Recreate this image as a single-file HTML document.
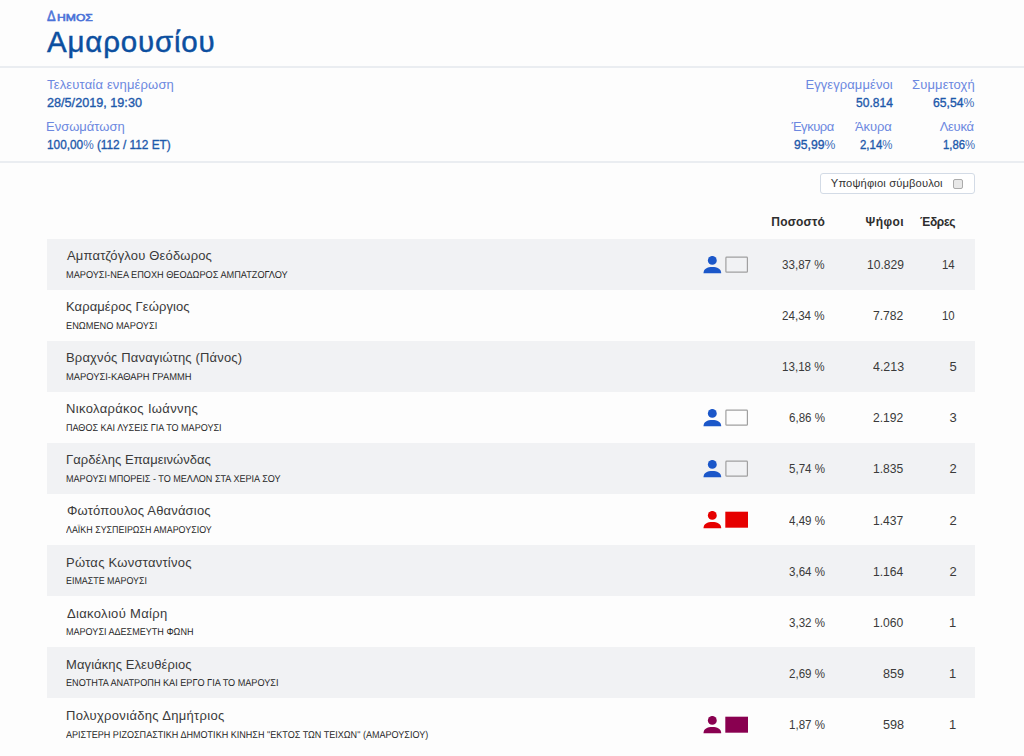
<!DOCTYPE html>
<html><head><meta charset="utf-8">
<style>
*{margin:0;padding:0;box-sizing:border-box}
html,body{width:1024px;height:756px;overflow:hidden;background:#fdfdfd;font-family:"Liberation Sans",sans-serif}
.hdr{position:absolute;left:0;top:66px;width:1024px;height:2px;background:#eaedf1}
.info{position:absolute;left:0;top:161px;width:1024px;height:2px;background:#eaedf1}
.kind{position:absolute;left:47px;top:6px;line-height:20px;font-size:15px;color:#5f7fdc;font-variant:small-caps;white-space:nowrap;-webkit-text-stroke:0.3px #5f7fdc}
.t{position:absolute;line-height:20px;white-space:nowrap}
.btn{position:absolute;left:820px;top:172.5px;width:155px;height:21.5px;border:1px solid #d3dbe6;border-radius:3px;background:#fff}
.cb{position:absolute;left:132.4px;top:5.3px;width:10px;height:10px;border:1px solid #ababab;border-radius:2px;background:#e8e8e8}
.row{position:absolute;left:47px;width:928.3px;background:#f1f2f4}
.ico{position:absolute;left:703px;width:46px;height:18px}
</style></head><body>
<div class="hdr"></div>
<div class="info"></div>
<div class="btn"><div class="cb"></div></div>
<div class="row" style="top:238.60px;height:51.070px"></div>
<div class="row" style="top:340.74px;height:51.070px"></div>
<div class="row" style="top:442.88px;height:51.070px"></div>
<div class="row" style="top:545.02px;height:51.070px"></div>
<div class="row" style="top:647.16px;height:51.070px"></div>
<svg class="ico" style="top:255.90px" viewBox="0 0 46 18"><circle cx="9.3" cy="4.4" r="4.45" fill="#1b57c9"/><path d="M0.5 17.3 C0.5 12.7 4.5 11.0 9.3 11.0 C14.1 11.0 18.2 12.7 18.2 17.3 Z" fill="#1b57c9"/><rect x="22.9" y="1.2" width="21.5" height="15" rx="0.8" fill="none" stroke="#a0a0a0" stroke-width="1.2"/></svg>
<svg class="ico" style="top:409.11px" viewBox="0 0 46 18"><circle cx="9.3" cy="4.4" r="4.45" fill="#1b57c9"/><path d="M0.5 17.3 C0.5 12.7 4.5 11.0 9.3 11.0 C14.1 11.0 18.2 12.7 18.2 17.3 Z" fill="#1b57c9"/><rect x="22.9" y="1.2" width="21.5" height="15" rx="0.8" fill="none" stroke="#a0a0a0" stroke-width="1.2"/></svg>
<svg class="ico" style="top:460.18px" viewBox="0 0 46 18"><circle cx="9.3" cy="4.4" r="4.45" fill="#1b57c9"/><path d="M0.5 17.3 C0.5 12.7 4.5 11.0 9.3 11.0 C14.1 11.0 18.2 12.7 18.2 17.3 Z" fill="#1b57c9"/><rect x="22.9" y="1.2" width="21.5" height="15" rx="0.8" fill="none" stroke="#a0a0a0" stroke-width="1.2"/></svg>
<svg class="ico" style="top:511.25px" viewBox="0 0 46 18"><circle cx="9.3" cy="4.4" r="4.45" fill="#e60000"/><path d="M0.5 17.3 C0.5 12.7 4.5 11.0 9.3 11.0 C14.1 11.0 18.2 12.7 18.2 17.3 Z" fill="#e60000"/><rect x="22.3" y="0.7" width="22.7" height="16" fill="#e60000"/></svg>
<svg class="ico" style="top:715.53px" viewBox="0 0 46 18"><circle cx="9.3" cy="4.4" r="4.45" fill="#890050"/><path d="M0.5 17.3 C0.5 12.7 4.5 11.0 9.3 11.0 C14.1 11.0 18.2 12.7 18.2 17.3 Z" fill="#890050"/><rect x="22.3" y="0.7" width="22.7" height="16" fill="#890050"/></svg>
<div class="t" style="left:47.30px;top:6.60px;font-size:15px;transform:scaleX(0.8600);transform-origin:0 0;color:#4a72d8;-webkit-text-stroke:0.6px #4a72d8;text-rendering:geometricPrecision;">Δ</div>
<div class="t" style="left:57.40px;top:8.60px;font-size:10px;transform:scaleX(1.2138);transform-origin:0 0;color:#4a72d8;-webkit-text-stroke:0.6px #4a72d8;text-rendering:geometricPrecision;">ΗΜΟΣ</div>
<div class="t" style="left:47.10px;top:32.00px;font-size:29.5px;letter-spacing:0.798px;color:#0c4fa0;-webkit-text-stroke:0.45px #0c4fa0;">Αμαρουσίου</div>
<div class="t" style="left:47.00px;top:75.00px;font-size:13px;letter-spacing:0.168px;color:#6c88e0;">Τελευταία ενημέρωση</div>
<div class="t" style="left:47.00px;top:93.00px;font-size:12.5px;transform:scaleX(1.0119);transform-origin:0 0;color:#1d59ab;-webkit-text-stroke:0.35px #1d59ab;">28/5/2019, 19:30</div>
<div class="t" style="left:46.00px;top:117.00px;font-size:13px;letter-spacing:-0.008px;color:#6c88e0;">Ενσωμάτωση</div>
<div class="t" style="left:47.00px;top:135.00px;font-size:12.5px;transform:scaleX(0.9449);transform-origin:0 0;color:#1d59ab;-webkit-text-stroke:0.35px #1d59ab;">100,00<span style="-webkit-text-stroke:0;color:#3a6cb8">%</span> (112 / 112 ΕΤ)</div>
<div class="t" style="left:805.40px;top:75.00px;font-size:13px;letter-spacing:0.085px;color:#6c88e0;">Εγγεγραμμένοι</div>
<div class="t" style="left:912.10px;top:75.00px;font-size:13px;letter-spacing:0.103px;color:#6c88e0;">Συμμετοχή</div>
<div class="t" style="left:855.90px;top:93.00px;font-size:12.5px;transform:scaleX(0.9639);transform-origin:0 0;color:#1d59ab;-webkit-text-stroke:0.35px #1d59ab;">50.814</div>
<div class="t" style="left:933.20px;top:93.00px;font-size:12.5px;transform:scaleX(0.9768);transform-origin:0 0;color:#1d59ab;-webkit-text-stroke:0.35px #1d59ab;">65,54<span style="-webkit-text-stroke:0;color:#3a6cb8">%</span></div>
<div class="t" style="left:791.40px;top:117.00px;font-size:13px;letter-spacing:-0.460px;color:#6c88e0;">Έγκυρα</div>
<div class="t" style="left:854.90px;top:117.00px;font-size:13px;letter-spacing:-0.070px;color:#6c88e0;">Άκυρα</div>
<div class="t" style="left:939.70px;top:117.00px;font-size:13px;letter-spacing:-0.282px;color:#6c88e0;">Λευκά</div>
<div class="t" style="left:793.50px;top:135.00px;font-size:12.5px;transform:scaleX(0.9768);transform-origin:0 0;color:#1d59ab;-webkit-text-stroke:0.35px #1d59ab;">95,99<span style="-webkit-text-stroke:0;color:#3a6cb8">%</span></div>
<div class="t" style="left:860.00px;top:135.00px;font-size:12.5px;transform:scaleX(0.9143);transform-origin:0 0;color:#1d59ab;-webkit-text-stroke:0.35px #1d59ab;">2,14<span style="-webkit-text-stroke:0;color:#3a6cb8">%</span></div>
<div class="t" style="left:942.50px;top:135.00px;font-size:12.5px;transform:scaleX(0.9058);transform-origin:0 0;color:#1d59ab;-webkit-text-stroke:0.35px #1d59ab;">1,86<span style="-webkit-text-stroke:0;color:#3a6cb8">%</span></div>
<div class="t" style="left:830.80px;top:173.30px;font-size:11.2px;letter-spacing:0.134px;color:#333;">Υποψήφιοι σύμβουλοι</div>
<div class="t" style="left:771.30px;top:212.00px;font-size:12px;font-weight:bold;letter-spacing:0.183px;color:#2e2e2e;">Ποσοστό</div>
<div class="t" style="left:865.50px;top:212.00px;font-size:12px;font-weight:bold;letter-spacing:0.437px;color:#2e2e2e;">Ψήφοι</div>
<div class="t" style="left:920.00px;top:212.00px;font-size:12px;font-weight:bold;letter-spacing:-0.333px;color:#2e2e2e;">Έδρες</div>
<div class="t" style="left:67.00px;top:246.00px;font-size:13px;letter-spacing:0.168px;color:#3a3a3a;">Αμπατζόγλου Θεόδωρος</div>
<div class="t" style="left:65.70px;top:266.00px;font-size:10px;transform:scaleX(0.9177);transform-origin:0 0;color:#282828;text-rendering:geometricPrecision;">ΜΑΡΟΥΣΙ-ΝΕΑ ΕΠΟΧΗ ΘΕΟΔΩΡΟΣ ΑΜΠΑΤΖΟΓΛΟΥ</div>
<div class="t" style="left:782.30px;top:255.00px;font-size:13px;transform:scaleX(0.8932);transform-origin:0 0;color:#3a3a3a;">33,87 %</div>
<div class="t" style="left:866.70px;top:255.00px;font-size:13px;transform:scaleX(0.9284);transform-origin:0 0;color:#3a3a3a;">10.829</div>
<div class="t" style="left:942.10px;top:255.00px;font-size:13px;transform:scaleX(0.8784);transform-origin:0 0;color:#3a3a3a;">14</div>
<div class="t" style="left:66.00px;top:297.00px;font-size:13px;letter-spacing:0.083px;color:#3a3a3a;">Καραμέρος Γεώργιος</div>
<div class="t" style="left:65.70px;top:317.00px;font-size:10px;transform:scaleX(0.9223);transform-origin:0 0;color:#282828;text-rendering:geometricPrecision;">ΕΝΩΜΕΝΟ ΜΑΡΟΥΣΙ</div>
<div class="t" style="left:782.30px;top:306.00px;font-size:13px;transform:scaleX(0.8932);transform-origin:0 0;color:#3a3a3a;">24,34 %</div>
<div class="t" style="left:873.30px;top:306.00px;font-size:13px;transform:scaleX(0.9318);transform-origin:0 0;color:#3a3a3a;">7.782</div>
<div class="t" style="left:942.10px;top:306.00px;font-size:13px;transform:scaleX(0.8784);transform-origin:0 0;color:#3a3a3a;">10</div>
<div class="t" style="left:66.00px;top:348.00px;font-size:13px;letter-spacing:0.160px;color:#3a3a3a;">Βραχνός Παναγιώτης (Πάνος)</div>
<div class="t" style="left:65.70px;top:368.00px;font-size:10px;transform:scaleX(0.9353);transform-origin:0 0;color:#282828;text-rendering:geometricPrecision;">ΜΑΡΟΥΣΙ-ΚΑΘΑΡΗ ΓΡΑΜΜΗ</div>
<div class="t" style="left:782.30px;top:357.00px;font-size:13px;transform:scaleX(0.8932);transform-origin:0 0;color:#3a3a3a;">13,18 %</div>
<div class="t" style="left:872.60px;top:357.00px;font-size:13px;transform:scaleX(0.9535);transform-origin:0 0;color:#3a3a3a;">4.213</div>
<div class="t" style="left:949.40px;top:357.00px;font-size:13px;color:#3a3a3a;">5</div>
<div class="t" style="left:66.00px;top:399.00px;font-size:13px;letter-spacing:0.345px;color:#3a3a3a;">Νικολαράκος Ιωάννης</div>
<div class="t" style="left:65.70px;top:419.00px;font-size:10px;transform:scaleX(0.9044);transform-origin:0 0;color:#282828;text-rendering:geometricPrecision;">ΠΑΘΟΣ ΚΑΙ ΛΥΣΕΙΣ ΓΙΑ ΤΟ ΜΑΡΟΥΣΙ</div>
<div class="t" style="left:788.90px;top:408.00px;font-size:13px;transform:scaleX(0.8897);transform-origin:0 0;color:#3a3a3a;">6,86 %</div>
<div class="t" style="left:873.30px;top:408.00px;font-size:13px;transform:scaleX(0.9318);transform-origin:0 0;color:#3a3a3a;">2.192</div>
<div class="t" style="left:949.40px;top:408.00px;font-size:13px;color:#3a3a3a;">3</div>
<div class="t" style="left:66.00px;top:450.00px;font-size:13px;letter-spacing:0.037px;color:#3a3a3a;">Γαρδέλης Επαμεινώνδας</div>
<div class="t" style="left:65.70px;top:470.00px;font-size:10px;transform:scaleX(0.9063);transform-origin:0 0;color:#282828;text-rendering:geometricPrecision;">ΜΑΡΟΥΣΙ ΜΠΟΡΕΙΣ - ΤΟ ΜΕΛΛΟΝ ΣΤΑ ΧΕΡΙΑ ΣΟΥ</div>
<div class="t" style="left:788.90px;top:459.00px;font-size:13px;transform:scaleX(0.8897);transform-origin:0 0;color:#3a3a3a;">5,74 %</div>
<div class="t" style="left:873.30px;top:459.00px;font-size:13px;transform:scaleX(0.9318);transform-origin:0 0;color:#3a3a3a;">1.835</div>
<div class="t" style="left:949.40px;top:459.00px;font-size:13px;color:#3a3a3a;">2</div>
<div class="t" style="left:67.00px;top:501.00px;font-size:13px;letter-spacing:0.178px;color:#3a3a3a;">Φωτόπουλος Αθανάσιος</div>
<div class="t" style="left:65.70px;top:521.00px;font-size:10px;transform:scaleX(0.8894);transform-origin:0 0;color:#282828;text-rendering:geometricPrecision;">ΛΑΪΚΗ ΣΥΣΠΕΙΡΩΣΗ ΑΜΑΡΟΥΣΙΟΥ</div>
<div class="t" style="left:788.90px;top:511.00px;font-size:13px;transform:scaleX(0.8897);transform-origin:0 0;color:#3a3a3a;">4,49 %</div>
<div class="t" style="left:873.30px;top:511.00px;font-size:13px;transform:scaleX(0.9318);transform-origin:0 0;color:#3a3a3a;">1.437</div>
<div class="t" style="left:949.40px;top:511.00px;font-size:13px;color:#3a3a3a;">2</div>
<div class="t" style="left:66.00px;top:553.00px;font-size:13px;letter-spacing:0.257px;color:#3a3a3a;">Ρώτας Κωνσταντίνος</div>
<div class="t" style="left:65.70px;top:572.00px;font-size:10px;transform:scaleX(0.8900);transform-origin:0 0;color:#282828;text-rendering:geometricPrecision;">ΕΙΜΑΣΤΕ ΜΑΡΟΥΣΙ</div>
<div class="t" style="left:788.90px;top:562.00px;font-size:13px;transform:scaleX(0.8897);transform-origin:0 0;color:#3a3a3a;">3,64 %</div>
<div class="t" style="left:873.30px;top:562.00px;font-size:13px;transform:scaleX(0.9318);transform-origin:0 0;color:#3a3a3a;">1.164</div>
<div class="t" style="left:949.40px;top:562.00px;font-size:13px;color:#3a3a3a;">2</div>
<div class="t" style="left:67.00px;top:604.00px;font-size:13px;letter-spacing:0.330px;color:#3a3a3a;">Διακολιού Μαίρη</div>
<div class="t" style="left:65.70px;top:623.00px;font-size:10px;transform:scaleX(0.9048);transform-origin:0 0;color:#282828;text-rendering:geometricPrecision;">ΜΑΡΟΥΣΙ ΑΔΕΣΜΕΥΤΗ ΦΩΝΗ</div>
<div class="t" style="left:788.90px;top:613.00px;font-size:13px;transform:scaleX(0.8897);transform-origin:0 0;color:#3a3a3a;">3,32 %</div>
<div class="t" style="left:873.30px;top:613.00px;font-size:13px;transform:scaleX(0.9318);transform-origin:0 0;color:#3a3a3a;">1.060</div>
<div class="t" style="left:949.00px;top:613.00px;font-size:13px;color:#3a3a3a;">1</div>
<div class="t" style="left:66.00px;top:655.00px;font-size:13px;letter-spacing:0.099px;color:#3a3a3a;">Μαγιάκης Ελευθέριος</div>
<div class="t" style="left:65.70px;top:674.00px;font-size:10px;transform:scaleX(0.9127);transform-origin:0 0;color:#282828;text-rendering:geometricPrecision;">ΕΝΟΤΗΤΑ ΑΝΑΤΡΟΠΗ ΚΑΙ ΕΡΓΟ ΓΙΑ ΤΟ ΜΑΡΟΥΣΙ</div>
<div class="t" style="left:788.90px;top:664.00px;font-size:13px;transform:scaleX(0.8897);transform-origin:0 0;color:#3a3a3a;">2,69 %</div>
<div class="t" style="left:882.50px;top:664.00px;font-size:13px;transform:scaleX(0.9739);transform-origin:0 0;color:#3a3a3a;">859</div>
<div class="t" style="left:949.00px;top:664.00px;font-size:13px;color:#3a3a3a;">1</div>
<div class="t" style="left:66.00px;top:706.00px;font-size:13px;letter-spacing:0.321px;color:#3a3a3a;">Πολυχρονιάδης Δημήτριος</div>
<div class="t" style="left:65.70px;top:726.00px;font-size:10px;transform:scaleX(0.9056);transform-origin:0 0;color:#282828;text-rendering:geometricPrecision;">ΑΡΙΣΤΕΡΗ ΡΙΖΟΣΠΑΣΤΙΚΗ ΔΗΜΟΤΙΚΗ ΚΙΝΗΣΗ "ΕΚΤΟΣ ΤΩΝ ΤΕΙΧΩΝ" (ΑΜΑΡΟΥΣΙΟΥ)</div>
<div class="t" style="left:788.90px;top:715.00px;font-size:13px;transform:scaleX(0.8897);transform-origin:0 0;color:#3a3a3a;">1,87 %</div>
<div class="t" style="left:882.50px;top:715.00px;font-size:13px;transform:scaleX(0.9739);transform-origin:0 0;color:#3a3a3a;">598</div>
<div class="t" style="left:949.00px;top:715.00px;font-size:13px;color:#3a3a3a;">1</div>
</body></html>
